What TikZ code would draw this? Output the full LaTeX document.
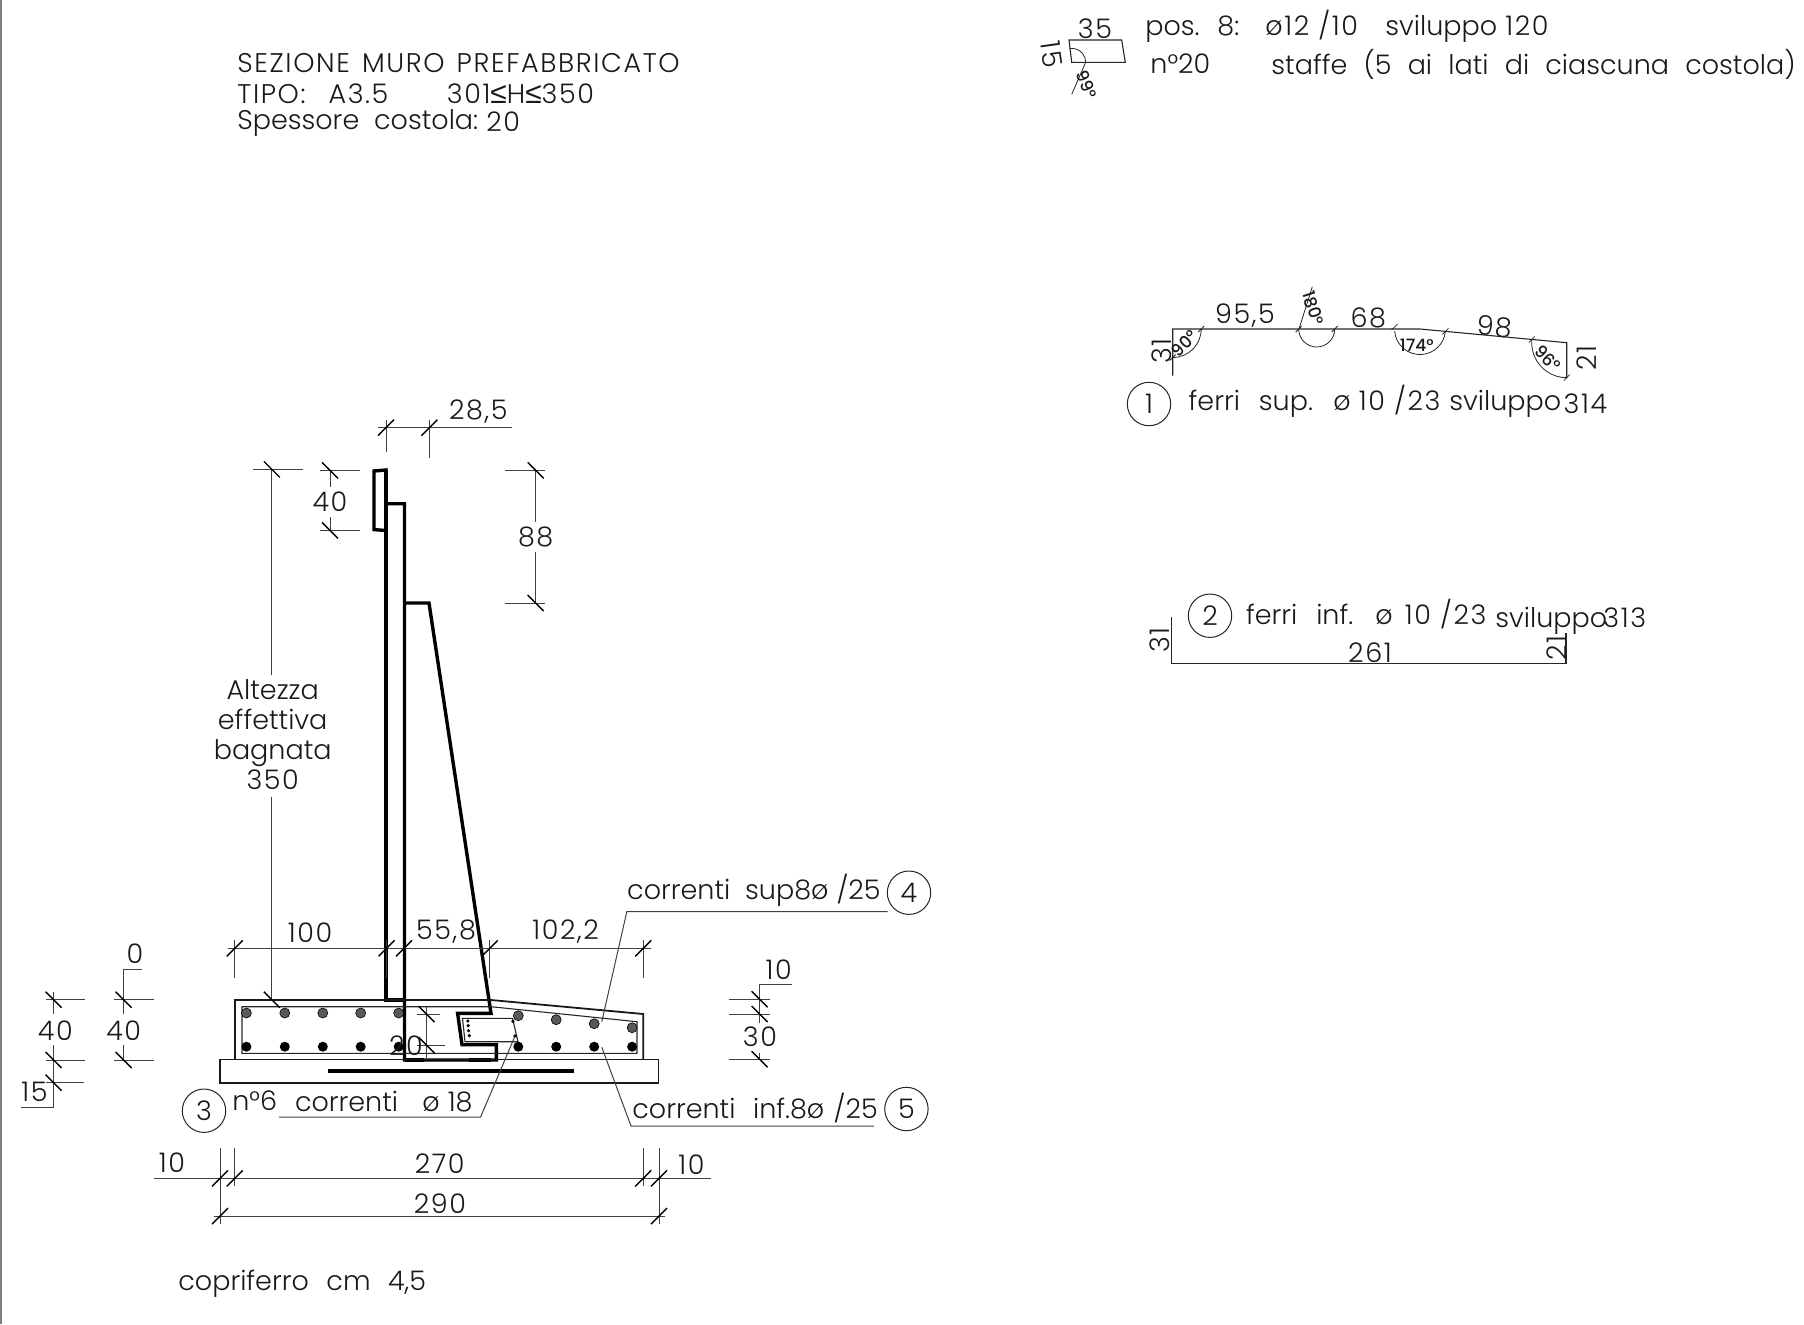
\documentclass[tikz,border=0pt]{standalone}
\usepackage{fontspec}
\setmainfont{Poppins}[UprightFont=* Light, BoldFont=* Medium]
\newfontfamily\symfont{Liberation Sans}
\begin{document}
\begin{tikzpicture}[
	x=0.5pt, y=-0.5pt,
	every node/.style={inner sep=0pt, font=\fontsize{13.5}{14}\selectfont, text=black!90},
	num/.style={font=\fontsize{13.5}{14}\selectfont\addfontfeature{LetterSpace=6}},
	lbl/.style={num, anchor=base},
	txt/.style={anchor=base},
	lbw/.style={anchor=base west},
	caps/.style={num, anchor=base west},
	small/.style={font=\fontsize{8.5}{9}\selectfont\bfseries, anchor=center},
	posmark/.style={circle, draw=black!85, line width=0.5pt, minimum size=21.7pt},
	wall/.style={draw=black, line width=1.7pt, line join=miter},
	outline/.style={draw=black!90, line width=0.9pt},
	rebar/.style={draw=black!85, line width=0.55pt},
	dimline/.style={draw=black!75, line width=0.5pt},
	topbar/.style={fill=black!65, draw=black, line width=0.3pt, radius=2.5pt},
	botbar/.style={fill=black, radius=2.5pt},
	tie/.style={fill=black, radius=0.9pt},
	tickp/.pic={\draw[black, line width=0.7pt] (-8,8) -- (8,-8);},
	tickb/.pic={\draw[black, line width=0.7pt] (-8,-8) -- (8,8);},
	tinytick/.pic={\draw[black!85, line width=0.4pt] (-3,3) -- (3,-3);}
	]
	\useasboundingbox (0,0) rectangle (1804,1324);
	\draw[black!50, line width=1pt] (1,0) -- (1,1324);

	\node[caps] (title) at (237,72.5) {SEZIONE\hspace{0.45em}MURO\hspace{0.45em}PREFABBRICATO};
	\node[caps] (tipo) at (237,103.5) {TIPO:\hspace{0.85em}A3.5};
	\node[caps] (tiporange) at (446.5,103.5) {301{\symfont\fontsize{15}{15}\selectfont ≤}H{\symfont\fontsize{15}{15}\selectfont ≤}350};
	\node[lbw] (spessore) at (237,129) {Spessore\hspace{0.55em}costola:};
	\node[caps] (spessoreval) at (486,131) {20};
	\node[lbw] (copriferro) at (178,1290) {copriferro\hspace{0.65em}cm\hspace{0.65em}4,5};

	\draw[wall] (374,471) -- (386,470) -- (386,530.5) -- (374,529.6) -- cycle;
	\draw[wall] (386,470) -- (386,1000) -- (404.5,1000);
	\draw[wall] (386,503.7) -- (404.5,503.7) -- (404.5,1060) -- (496.4,1060) -- (496.4,1044.7) -- (462,1044.7) -- (457.6,1013.3) -- (491,1013.3) -- (429,603) -- (404.5,603);
	\draw[black, line width=2.2pt] (404.5,1060) -- (424,1060) (469,1060) -- (491,1060);

	\draw[outline] (235,1059.5) -- (235,1000) -- (491,1000) -- (643.3,1014) -- (643.3,1059.5);
	\draw[outline] (220,1059.5) rectangle (658.5,1082.7);
	\draw[black, line width=1.6pt] (328,1071) -- (574,1071);
	\draw[rebar] (242,1006.7) -- (491,1006.7) -- (637,1021.7) -- (637,1053.3) -- (242,1053.3) -- cycle;
	\draw[rebar] (462.5,1018.3) -- (512.5,1018.3) -- (518,1041.7) -- (465,1041.7) -- cycle;

	\filldraw[topbar] (246.4,1013) circle[] (284.8,1013) circle[] (322.8,1013) circle[] (360.7,1013) circle[] (398.7,1013) circle[] (518.3,1015.7) circle[] (556.2,1019.7) circle[] (594.2,1023.7) circle[] (632.1,1027.7) circle[];
	\fill[botbar] (246.4,1046.7) circle[] (284.8,1046.7) circle[] (322.8,1046.7) circle[] (360.7,1046.7) circle[] (398.7,1046.7) circle[] (518.3,1046.7) circle[] (556.2,1046.7) circle[] (594.2,1046.7) circle[] (632.1,1046.7) circle[];
	\fill[tie] (467.9,1021) circle[] (468.2,1025.7) circle[] (468.6,1030.7) circle[] (469.3,1035.7) circle[] (512.9,1021.3) circle[] (515,1036) circle[];

	\draw[dimline] (378.3,427.7) -- (512.3,427.7) (386,419.7) -- (386,452.3) (429.3,419.7) -- (429.3,458.3);
	\path (386,427.7) pic {tickp} (429.3,427.7) pic {tickp};
	\node[lbl] (dimtop) at (478.3,419.3) {28,5};

	\draw[dimline] (320,470.3) -- (360,470.3) (320,530.3) -- (360,530.3) (330,470.3) -- (330,487) (330,517) -- (330,530.3);
	\path (330,470.3) pic {tickb} (330,530.3) pic {tickb};
	\node[num] (dimcap) at (330,501.6) {40};

	\draw[dimline] (505,470.3) -- (545,470.3) (505,603) -- (545,603) (535.7,470.3) -- (535.7,521.7) (535.7,551.7) -- (535.7,603);
	\path (535.7,470.3) pic {tickb} (535.7,603) pic {tickb};
	\node[num] (dimrib) at (535.7,536.7) {88};

	\draw[dimline] (253,469.4) -- (302.6,469.4) (271.9,469.4) -- (271.9,675) (271.9,797) -- (271.9,999.7);
	\path (271.9,469.4) pic {tickb} (271.9,999.7) pic {tickb};
	\node[txt] (altezza) at (272.7,699.5) {Altezza};
	\node[txt] (effettiva) at (272.7,729.4) {effettiva};
	\node[txt] (bagnata) at (272.7,759.3) {bagnata};
	\node[lbl] (altezzaval) at (272.7,789.2) {350};

	\draw[dimline] (227.7,948.3) -- (651,948.3) (234.8,940.3) -- (234.8,978.3) (386.6,940.3) -- (386.6,978.3) (489.7,940.3) -- (489.7,978.3) (643.3,940.3) -- (643.3,978.3);
	\path (234.8,948.3) pic {tickp} (386.6,948.3) pic {tickp} (404,948.3) pic {tickp} (489.7,948.3) pic {tickp} (643.3,948.3) pic {tickp};
	\node[lbl] (dimheel) at (310,942.7) {100};
	\node[lbl] (dimtoe) at (446,939.3) {55,8};
	\node[lbl] (dimrest) at (565.6,939.3) {102,2};

	\draw[dimline] (46,999.7) -- (84.8,999.7) (46,1060) -- (84.8,1060) (46,1082.7) -- (84,1082.7) (53.6,991.7) -- (53.6,1014) (53.6,1045) -- (53.6,1107.7) -- (21,1107.7);
	\path (53.6,999.7) pic {tickb} (53.6,1060) pic {tickb} (53.6,1082.7) pic {tickb};
	\node[num] (leftforty) at (55.4,1031) {40};
	\node[lbl] (leftfifteen) at (34.4,1101.7) {15};

	\draw[dimline] (113.8,999.7) -- (154,999.7) (113.8,1060) -- (154,1060) (123.7,1014) -- (123.7,969.3) -- (141.5,969.3) (123.7,1045) -- (123.7,1060);
	\path (123.7,999.7) pic {tickb} (123.7,1060) pic {tickb};
	\node[num] (midforty) at (123.7,1031) {40};
	\node[lbl] (midzero) at (135,963) {0};

	\draw[dimline] (426.5,1006.7) -- (426.5,1059.5) (417.4,1014) -- (439.7,1014) (417.4,1045) -- (445,1045);
	\path (426.5,1014) pic {tickb} (426.5,1045) pic {tickb};
	\node[lbl] (dimtwenty) at (406,1055) {20};

	\draw[dimline] (729.3,999.3) -- (769.6,999.3) (729.3,1014) -- (769.6,1014) (729.3,1059.3) -- (769.6,1059.3) (759.6,1023.3) -- (759.6,984) -- (792,984) (759.6,1052.7) -- (759.6,1059.3);
	\path (759.6,999.3) pic {tickb} (759.6,1014) pic {tickb} (759.6,1059.3) pic {tickb};
	\node[lbl] (rightten) at (778.6,979.3) {10};
	\node[lbl] (rightthirty) at (760,1046.7) {30};

	\draw[dimline] (154,1178.3) -- (711,1178.3) (220,1148) -- (220,1224) (234.8,1148) -- (234.8,1186) (643.3,1148) -- (643.3,1186) (659,1148) -- (659,1224);
	\draw[dimline] (214,1216) -- (665,1216);
	\draw[black!75, line width=0.8pt] (234.8,1178.3) -- (643.3,1178.3);
	\path (220,1178.3) pic {tickp} (234.8,1178.3) pic {tickp} (643.3,1178.3) pic {tickp} (659,1178.3) pic {tickp} (220,1216) pic {tickp} (659,1216) pic {tickp};
	\node[lbl] (lowten) at (172,1172.7) {10};
	\node[lbl] (lowspan) at (439.7,1173.3) {270};
	\node[lbl] (lowtenr) at (691.5,1174.7) {10};
	\node[lbl] (lowtotal) at (440,1213.8) {290};

	\node[posmark] (posthree) at (204,1110.7) {3};
	\node[lbw] (nsix) at (232,1110) {n°6};
	\node[lbw] (currthree) at (294.6,1111) {correnti\hspace{0.9em}ø\hspace{0.3em}18};
	\coordinate (startthree) at (279,1117);
	\coordinate (kneethree) at (480.6,1117);
	\coordinate (endthree) at (515,1036);
	\draw[dimline] (startthree) -- (kneethree) -- (endthree);

	\node[posmark] (posfour) at (909,892.7) {4};
	\node[lbw] (currfour) at (626.8,899.3) {correnti\hspace{0.55em}sup8ø\hspace{0.3em}/25};
	\coordinate (startfour) at (887.5,911.7);
	\coordinate (kneefour) at (626.8,911.7);
	\coordinate (endfour) at (601.8,1021.7);
	\draw[dimline] (startfour) -- (kneefour) -- (endfour);

	\node[posmark] (posfive) at (906.4,1109) {5};
	\node[lbw] (currfive) at (632,1118) {correnti\hspace{0.65em}inf.8ø\hspace{0.35em}/25};
	\coordinate (startfive) at (874,1126);
	\coordinate (kneefive) at (631,1126);
	\coordinate (endfive) at (601.8,1047.3);
	\draw[dimline] (startfive) -- (kneefive) -- (endfive);

	\draw[rebar] (1069,40) -- (1121.7,40) -- (1125.3,62.3) -- (1071.7,62.3) -- cycle;
	\coordinate (stirrupc) at (1071.7,62.3);
	\draw[rebar, line width=0.4pt] (stirrupc) ++(99:7pt) arc[start angle=99, end angle=0, radius=7pt];
	\draw[rebar, line width=0.4pt] (1085.7,62.3) -- (1071.7,94.3);
	\node[lbl] (stirrupw) at (1095,38.3) {35};
	\node[num, rotate=-82] (stirruph) at (1052,54.3) {15};
	\node[small, rotate=-68] (stirrupa) at (1087,84) {99°};
	\node[lbw] (posa) at (1145,35) {pos.};
	\node[lbw] (posd) at (1217,35) {8:};
	\node[caps] (pose) at (1265,35) {ø12 /10};
	\node[lbw] (posf) at (1385,35) {sviluppo};
	\node[caps] (posg) at (1505,35) {120};
	\node[lbw] (posb) at (1150,73.3) {n°20};
	\node[lbw] (posc) at (1271,74) {staffe\hspace{0.6em}(5\hspace{0.6em}ai\hspace{0.6em}lati\hspace{0.6em}di\hspace{0.6em}ciascuna\hspace{0.6em}costola)};

	\draw[rebar] (1172.7,375.7) -- (1172.7,329) -- (1420,329) -- (1566.7,342.7) -- (1566.7,378.3);
	\coordinate (bendone) at (1172.7,329);
	\coordinate (bendtwo) at (1316.7,329);
	\coordinate (bendthree) at (1420,329);
	\coordinate (bendfour) at (1566.7,342.7);
	\draw[rebar, line width=0.4pt] (bendone) ++(270:14.25pt) arc[start angle=270, end angle=360, radius=14.25pt];
	\draw[rebar, line width=0.4pt] (bendtwo) ++(180:9pt) arc[start angle=180, end angle=360, radius=9pt];
	\draw[rebar, line width=0.4pt] (bendthree) ++(185:12.75pt) arc[start angle=185, end angle=353, radius=12.75pt];
	\draw[rebar, line width=0.4pt] (bendfour) ++(175:17.5pt) arc[start angle=175, end angle=270, radius=17.5pt];
	\draw[rebar, line width=0.4pt] (1299,329) -- (1312.3,286.7);
	\path (1172.7,357.5) pic {tinytick} (1201.2,329) pic {tinytick} (1298.7,329) pic {tinytick} (1334.7,329) pic {tinytick} (1394.6,327) pic {tinytick} (1445.4,331.4) pic {tinytick} (1531.8,339.6) pic {tinytick} (1566.7,377.7) pic {tinytick};
	\node[small, rotate=45] (angone) at (1184.3,343.3) {90°};
	\node[small, rotate=-72] (angtwo) at (1313.3,308.3) {180°};
	\node[small] (angthree) at (1416.7,345) {174°};
	\node[small, rotate=-45] (angfour) at (1548,358.3) {96°};
	\node[lbl] (fera) at (1245,323.3) {95,5};
	\node[lbl] (ferb) at (1368.3,327.3) {68};
	\node[lbl, rotate=-5] (ferc) at (1494,336) {98};
	\node[num, rotate=90] (ferd) at (1161.7,351) {31};
	\node[num, rotate=90] (fere) at (1586.7,358.3) {21};
	\node[posmark] (posone) at (1149,404) {1};
	\node[lbw] (ferria) at (1188.3,410) {ferri\hspace{0.7em}sup.};
	\node[caps] (ferrib) at (1333,410) {ø\hspace{0.3em}10 /23};
	\node[lbw] (ferric) at (1449,410) {sviluppo};
	\node[caps] (ferrid) at (1563.3,413) {314};

	\draw[rebar] (1171.7,617.3) -- (1171.7,663.3) -- (1566,663.3) -- (1566,632.7);
	\node[num, rotate=90] (infa) at (1159.3,640) {31};
	\node[num, rotate=90] (infb) at (1556.7,648.3) {21};
	\node[lbl] (infc) at (1370,662.7) {261};
	\node[posmark] (postwo) at (1210,615.7) {2};
	\node[lbw] (ferrinfa) at (1245.7,624.3) {ferri\hspace{0.7em}inf.};
	\node[caps] (ferrinfb) at (1375,624.3) {ø\hspace{0.45em}10 /23};
	\node[lbw] (ferrinfc) at (1495,627) {sviluppo};
	\node[caps] (ferrinfd) at (1603,627) {313};
\end{tikzpicture}
\end{document}
